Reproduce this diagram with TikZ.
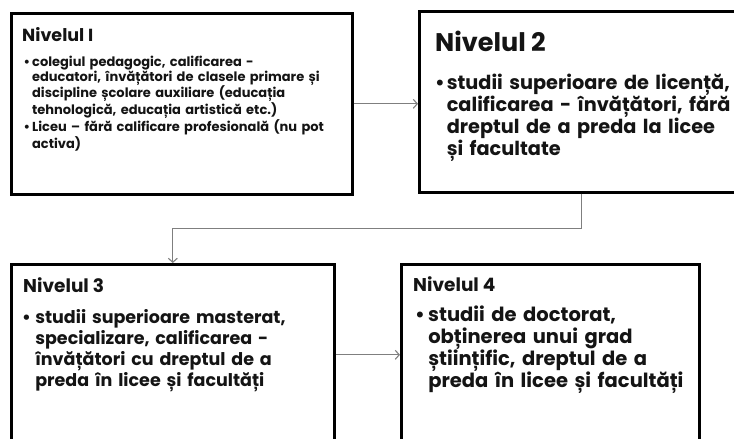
\documentclass[tikz,border=0pt]{standalone}
\usepackage{fontspec}
\setmainfont{Poppins}
\usetikzlibrary{positioning, arrows.meta, calc}
\definecolor{inkblack}{HTML}{141414}
\definecolor{conngray}{HTML}{7F7F7F}
\newcommand{\bulitem}[2][0.6em]{\par\noindent\makebox[#1][l]{•}\parbox[t]{\dimexpr\linewidth-#1\relax}{\raggedright #2}\par}

\begin{document}
\begin{tikzpicture}[
    x=1pt, y=-1pt,
    lvlbox/.style={rectangle, draw=black, line width=2.6pt, fill=white, anchor=north west, minimum height=181pt, inner sep=0pt},
    lvltitle/.style={anchor=north west, inner sep=0pt, text=inkblack},
    lvltext/.style={anchor=north west, inner sep=0pt, text=inkblack, align=left, text width=340pt},
    conn/.style={-{Straight Barb[length=4pt,width=9pt]}, line width=1.1pt, conngray}
]
\useasboundingbox (0,0) rectangle (734,439);
\clip (0,0) rectangle (734,439);

% Boxes
\node[lvlbox, minimum width=341pt] (lvlone) at (10,12) {};
\node[lvlbox, minimum width=324pt] (lvltwo) at (418,10) {};
\node[lvlbox, minimum width=323pt] (lvlthree) at (10,263) {};
\node[lvlbox, minimum width=298pt] (lvlfour) at (400,263) {};

% Nivelul I
\node[lvltitle, font=\fontsize{17.5}{19}\selectfont\bfseries, below right=15.5pt and 12pt of lvlone.north west] (ttlone) {Nivelul I};
\node[lvltext, font=\fontsize{13}{13.3}\selectfont\bfseries, below right=10.5pt and 1.5pt of ttlone.south west] (txtone) {%
  \bulitem[0.65em]{colegiul pedagogic, calificarea -\\educatori, învățători de clasele primare și\\discipline școlare auxiliare (educația\\tehnologică, educația artistică etc.)}
  \bulitem[0.65em]{Liceu – fără calificare profesională (nu pot\\activa)}};

% Nivelul 2
\node[lvltitle, font=\fontsize{25.5}{30}\selectfont\bfseries, below right=20.5pt and 17pt of lvltwo.north west] (ttltwo) {Nivelul 2};
\node[lvltext, font=\fontsize{19.3}{22}\selectfont\bfseries, below right=16pt and 0pt of ttltwo.south west] (txttwo) {%
  \bulitem[0.6em]{studii superioare de licență,\\calificarea - învățători, fără\\dreptul de a preda la licee\\și facultate}};

% Nivelul 3
\node[lvltitle, font=\fontsize{18.5}{21}\selectfont\bfseries, below right=14.5pt and 13pt of lvlthree.north west] (ttlthree) {Nivelul 3};
\node[lvltext, font=\fontsize{17.5}{21}\selectfont\bfseries, below right=9pt and -1pt of ttlthree.south west] (txtthree) {%
  \bulitem[0.75em]{studii superioare masterat,\\specializare, calificarea -\\învățători cu dreptul de a\\preda în licee și facultăți}};

% Nivelul 4
\node[lvltitle, font=\fontsize{18.5}{21}\selectfont\bfseries, below right=13pt and 13pt of lvlfour.north west] (ttlfour) {Nivelul 4};
\node[lvltext, font=\fontsize{19.5}{22}\selectfont\bfseries, below right=8pt and 2pt of ttlfour.south west] (txtfour) {%
  \bulitem[0.67em]{studii de doctorat,\\obținerea unui grad\\științific, dreptul de a\\preda în licee și facultăți}};

% Connectors
\coordinate (bend) at ($(lvltwo.south)!0.5!(lvlthree.north)$);
\draw[conn] (lvlone.east) -- (lvlone.east -| lvltwo.west);
\draw[conn] (lvltwo.south) |- (bend) -| (lvlthree.north);
\draw[conn] (lvlthree.east) -- (lvlthree.east -| lvlfour.west);

\end{tikzpicture}
\end{document}
